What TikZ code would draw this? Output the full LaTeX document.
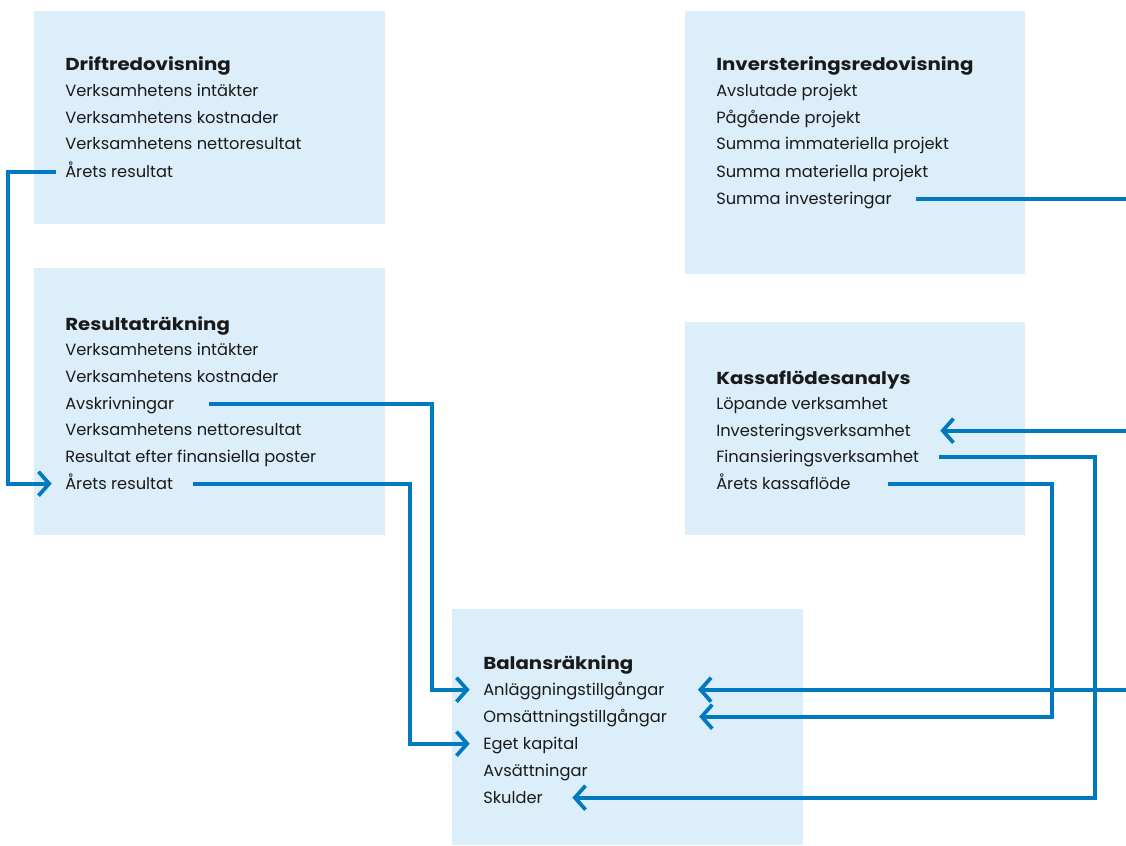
\documentclass[tikz,border=0pt]{standalone}
\usepackage{fontspec}
\setmainfont{Poppins}
\newfontfamily\headfont[FakeStretch=1.14]{Poppins}
\usepackage{xcolor}
\usetikzlibrary{arrows.meta}
\definecolor{panelblue}{RGB}{220,238,249}
\definecolor{linkblue}{RGB}{0,121,193}
\definecolor{inkgrey}{RGB}{26,26,26}

\tikzset{
  panel/.style={fill=panelblue},
  item/.style={anchor=base west, inner xsep=0pt, inner ysep=0pt,
    text height=10pt, text depth=2pt, text=inkgrey,
    font=\fontsize{12.2}{14}\selectfont},
  heading/.style={item, font=\headfont\fontsize{13}{15}\selectfont\bfseries},
  link/.style={linkblue, line width=2.8pt},
  arrowlink/.style={link, -{Straight Barb[length=8pt,width=18pt,line width=2.8pt]}}
}

\begin{document}
\begin{tikzpicture}[x=0.75pt,y=-0.75pt]
    \useasboundingbox (0,0) rectangle (1126,845);

    % Panels
    \fill[panel] (34,11) rectangle (385,224);
    \fill[panel] (34,268) rectangle (385,535);
    \fill[panel] (685,11) rectangle (1025,274);
    \fill[panel] (685,322) rectangle (1025,535);
    \fill[panel] (452,609) rectangle (803,845);

    % Driftredovisning
    \node[heading] (d1) at (65,71) {Driftredovisning};
    \node[item] (d2) at (65,97) {Verksamhetens intäkter};
    \node[item] (d3) at (65,123) {Verksamhetens kostnader};
    \node[item] (d4) at (65,150) {Verksamhetens nettoresultat};
    \node[item] (d5) at (65,177) {Årets resultat};

    % Resultaträkning
    \node[heading] (r0) at (65,330) {Resultaträkning};
    \node[item] (r1) at (65,355) {Verksamhetens intäkter};
    \node[item] (r2) at (65,382) {Verksamhetens kostnader};
    \node[item] (r3) at (65,409) {Avskrivningar};
    \node[item] (r4) at (65,435) {Verksamhetens nettoresultat};
    \node[item] (r5) at (65,462) {Resultat efter finansiella poster};
    \node[item] (r6) at (65,489) {Årets resultat};

    % Investeringsredovisning
    \node[heading] (i1) at (716,71) {Inversteringsredovisning};
    \node[item] (i2) at (716,97) {Avslutade projekt};
    \node[item] (i3) at (716,123) {Pågående projekt};
    \node[item] (i4) at (716,150) {Summa immateriella projekt};
    \node[item] (i5) at (716,177) {Summa materiella projekt};
    \node[item] (i6) at (716,204) {Summa investeringar};

    % Kassaflödesanalys
    \node[heading] (k1) at (716,384) {Kassaflödesanalys};
    \node[item] (k2) at (716,409) {Löpande verksamhet};
    \node[item] (k3) at (716,436) {Investeringsverksamhet};
    \node[item] (k4) at (716,462) {Finansieringsverksamhet};
    \node[item] (k5) at (716,489) {Årets kassaflöde};

    % Balansräkning
    \node[heading] (b1) at (483,669) {Balansräkning};
    \node[item] (b2) at (483,695) {Anläggningstillgångar};
    \node[item] (b3) at (483,722) {Omsättningstillgångar};
    \node[item] (b4) at (483,749) {Eget kapital};
    \node[item] (b5) at (483,776) {Avsättningar};
    \node[item] (b6) at (483,803) {Skulder};

    % Free ends at the right edge
    \coordinate (iout) at (1126,0 |- i6.east);
    \coordinate (kin) at (1126,0 |- k3.east);
    \coordinate (bin) at (1126,0 |- b2.east);

    % Connectors
    \draw[arrowlink] ([xshift=-7pt]d5.west) -- (8,0 |- d5.west) |- ([xshift=-10pt]r6.west);
    \draw[arrowlink] ([xshift=26pt]r3.east) -- (432,0 |- r3.east) |- ([xshift=-10pt]b2.west);
    \draw[arrowlink] ([xshift=15pt]r6.east) -- (410,0 |- r6.east) |- ([xshift=-10pt]b4.west);
    \draw[link] ([xshift=18pt]i6.east) -- (iout);
    \draw[arrowlink] (kin) -- ([xshift=22pt]k3.east);
    \draw[arrowlink] ([xshift=15pt]k4.east) -- (1095,0 |- k4.east) |- ([xshift=22pt]b6.east);
    \draw[arrowlink] ([xshift=28pt]k5.east) -- (1052,0 |- k5.east) |- ([xshift=24pt]b3.east);
    \draw[arrowlink] (bin) -- ([xshift=25pt]b2.east);
\end{tikzpicture}
\end{document}
